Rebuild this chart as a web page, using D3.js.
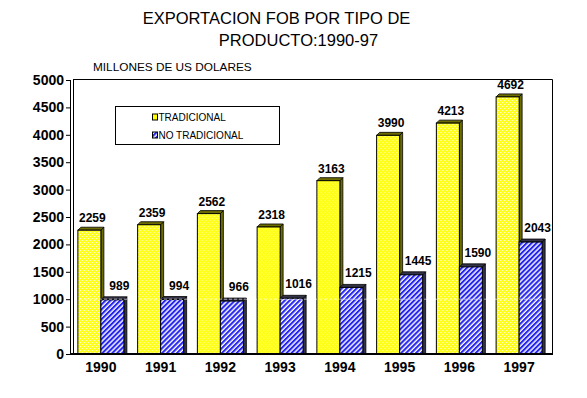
<!DOCTYPE html>
<html>
<head>
<meta charset="utf-8">
<script src="https://cdn.jsdelivr.net/npm/d3@7"></script>
<style>
  body { margin: 0; background: #fff; }
  svg { display: block; }
</style>
</head>
<body>
<div id="chart"></div>
<script>
const years = ["1990", "1991", "1992", "1993", "1994", "1995", "1996", "1997"];
const seriesNames = ["TRADICIONAL", "NO TRADICIONAL"];
const tradicional = [2259, 2359, 2562, 2318, 3163, 3990, 4213, 4692];
const noTradicional = [989, 994, 966, 1016, 1215, 1445, 1590, 2043];
const yTicks = [0, 500, 1000, 1500, 2000, 2500, 3000, 3500, 4000, 4500, 5000];

const width = 587, height = 398;
const font = "Arial, 'Liberation Sans', sans-serif";
const depth = 3;

const svg = d3.select("#chart").append("svg")
  .attr("width", width)
  .attr("height", height);

svg.append("rect").attr("width", width).attr("height", height).attr("fill", "#fff");

const defs = svg.append("defs");

// yellow with white dots
const dots = defs.append("pattern")
  .attr("id", "dots")
  .attr("patternUnits", "userSpaceOnUse")
  .attr("width", 4).attr("height", 4);
dots.append("rect").attr("width", 4).attr("height", 4).attr("fill", "#ffff1a");
dots.append("rect").attr("x", 0).attr("y", 0).attr("width", 1).attr("height", 1).attr("fill", "#fffde0");
dots.append("rect").attr("x", 2).attr("y", 2).attr("width", 1).attr("height", 1).attr("fill", "#fffde0");

// blue diagonal stripes
const stripes = defs.append("pattern")
  .attr("id", "stripes")
  .attr("patternUnits", "userSpaceOnUse")
  .attr("width", 3.5).attr("height", 3.5)
  .attr("patternTransform", "rotate(45)");
stripes.append("rect").attr("width", 3.5).attr("height", 3.5).attr("fill", "#ffffff");
stripes.append("rect").attr("width", 2.1).attr("height", 3.5).attr("fill", "#2626f0");

const fills = { "TRADICIONAL": "url(#dots)", "NO TRADICIONAL": "url(#stripes)" };
const sides = { "TRADICIONAL": "#6b6b00", "NO TRADICIONAL": "#333348" };

const data = years.map((yr, i) => ({
  year: yr,
  values: [
    { key: "TRADICIONAL", value: tradicional[i] },
    { key: "NO TRADICIONAL", value: noTradicional[i] }
  ]
}));

const x0 = d3.scaleBand()
  .domain(years)
  .range([71, 549])
  .paddingInner(0.23)
  .paddingOuter(0.115);

const x1 = d3.scaleBand()
  .domain(seriesNames)
  .range([0, x0.bandwidth()]);

const y = d3.scaleLinear()
  .domain([0, 5000])
  .range([354, 80]);

// title
svg.append("text")
  .attr("x", 276.5).attr("y", 24)
  .attr("text-anchor", "middle")
  .style("font-family", font).style("font-size", "16.5px")
  .text("EXPORTACION FOB POR TIPO DE");
svg.append("text")
  .attr("x", 298.5).attr("y", 46)
  .attr("text-anchor", "middle")
  .style("font-family", font).style("font-size", "16.5px")
  .text("PRODUCTO:1990-97");

svg.append("text")
  .attr("x", 93).attr("y", 71)
  .style("font-family", font).style("font-size", "11.8px")
  .text("MILLONES DE US DOLARES");

// frame
svg.append("path")
  .attr("d", `M73,${y(5000) - 0.5}H552.5V${y(0)}`)
  .attr("fill", "none").attr("stroke", "#000").attr("stroke-width", 1);

// bars
const groups = svg.append("g").selectAll("g")
  .data(data)
  .join("g")
  .attr("transform", d => `translate(${x0(d.year)},0)`);

groups.each(function(d) {
  const g = d3.select(this);
  d.values.forEach(v => {
    const bx0 = x1(v.key), bx1 = bx0 + x1.bandwidth();
    const by = y(v.value), base = y(0);
    // side
    g.append("path")
      .attr("d", `M${bx1},${by}L${bx1 + depth},${by - depth}V${base}H${bx1}Z`)
      .attr("fill", sides[v.key]).attr("stroke", "#000").attr("stroke-width", 0.8);
    // top
    g.append("path")
      .attr("d", `M${bx0},${by}L${bx0 + depth},${by - depth}H${bx1 + depth}L${bx1},${by}Z`)
      .attr("fill", sides[v.key]).attr("stroke", "#000").attr("stroke-width", 0.8);
    // front
    g.append("rect")
      .attr("x", bx0).attr("y", by)
      .attr("width", bx1 - bx0).attr("height", base - by)
      .attr("fill", fills[v.key]).attr("stroke", "#000").attr("stroke-width", 1);
  });
});

// dashed line through bars at 1000
svg.append("line")
  .attr("x1", 74).attr("x2", 552)
  .attr("y1", y(1000)).attr("y2", y(1000))
  .attr("stroke", "#ffffff").attr("stroke-opacity", 0.6)
  .attr("stroke-dasharray", "3,2");

// value labels
groups.each(function(d) {
  const g = d3.select(this);
  d.values.forEach(v => {
    const isTrad = v.key === "TRADICIONAL";
    g.append("text")
      .attr("x", x1(v.key) + x1.bandwidth() / 2 + (isTrad ? 3 : 7))
      .attr("y", y(v.value) - (isTrad ? 8 : 10))
      .attr("text-anchor", "middle")
      .style("font-family", font).style("font-size", "12px").style("font-weight", "bold")
      .text(v.value);
  });
});

// y axis
const yAxis = svg.append("g")
  .attr("transform", "translate(70,0)")
  .call(d3.axisLeft(y).tickValues(yTicks).tickSize(4).tickPadding(2).tickFormat(d3.format("d")));
yAxis.select(".domain").remove();
yAxis.selectAll("text")
  .style("font-family", font).style("font-size", "14px").style("font-weight", "bold").attr("fill", "#000");
svg.append("line").attr("x1", 70.5).attr("x2", 70.5).attr("y1", y(5000)).attr("y2", y(0)).attr("stroke", "#000");
svg.append("line").attr("x1", 73.5).attr("x2", 73.5).attr("y1", y(5000)).attr("y2", y(0)).attr("stroke", "#000");

// x axis
const xAxis = svg.append("g")
  .attr("transform", `translate(0,${y(0)})`)
  .call(d3.axisBottom(x0).tickSize(0).tickPadding(8));
xAxis.select(".domain").remove();
xAxis.selectAll("text")
  .style("font-family", font).style("font-size", "14px").style("font-weight", "bold").attr("fill", "#000");
svg.append("line").attr("x1", 70).attr("x2", 553).attr("y1", y(0)).attr("y2", y(0))
  .attr("stroke", "#000").attr("stroke-width", 2);

// legend
const legend = svg.append("g");
legend.append("rect")
  .attr("x", 115.5).attr("y", 106.5).attr("width", 164).attr("height", 38)
  .attr("fill", "#fff").attr("stroke", "#000");
const legendY = d3.scalePoint().domain(seriesNames).range([117, 135]);
const items = legend.selectAll("g.item")
  .data(seriesNames)
  .join("g")
  .attr("class", "item")
  .attr("transform", d => `translate(152.5,${legendY(d)})`);
items.append("rect")
  .attr("x", 0).attr("y", -3).attr("width", 5).attr("height", 6)
  .attr("fill", d => d === "TRADICIONAL" ? "#ffff00" : "url(#stripes)")
  .attr("stroke", "#000").attr("stroke-width", 1);
items.append("text")
  .attr("x", 6).attr("y", 3.6)
  .style("font-family", font).style("font-size", "10px")
  .text(d => d);
</script>
</body>
</html>
